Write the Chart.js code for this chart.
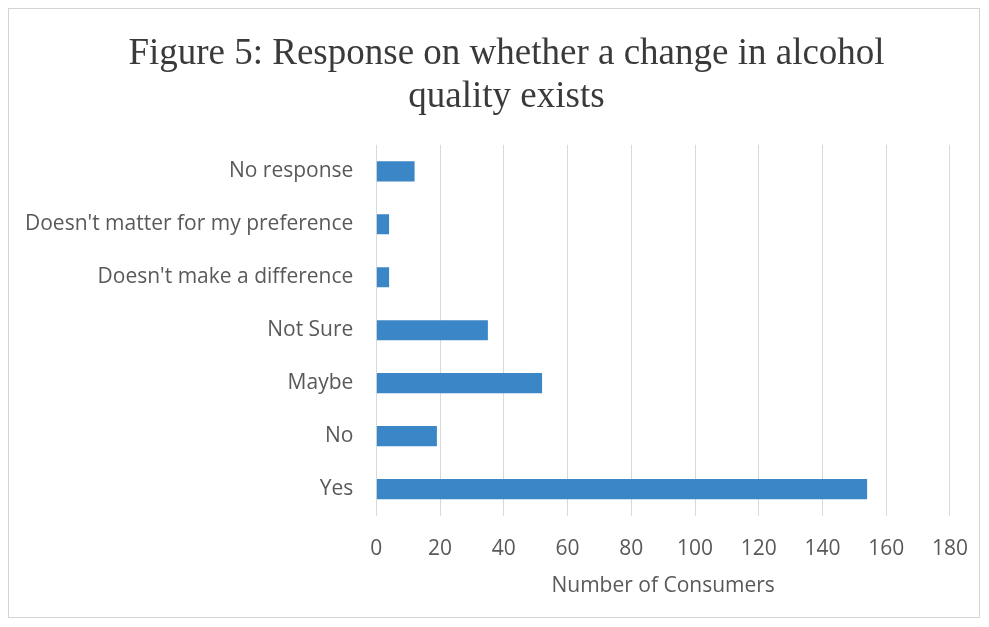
<!DOCTYPE html>
<html>
<head>
<meta charset="utf-8">
<script src="https://cdn.jsdelivr.net/npm/chart.js@4"></script>
<style>
  body { margin: 0; background: #fff; }
  #wrap { position: relative; width: 989px; height: 627px; }
  #frame { position: absolute; left: 8px; top: 8px; width: 972px; height: 610px; border: 1px solid #d4d4d4; box-sizing: border-box; pointer-events: none; }
</style>
</head>
<body>
<div id="wrap">
  <canvas id="myChart" width="989" height="627"></canvas>
  <div id="frame"></div>
</div>
<script>
var categories = ["No response", "Doesn't matter for my preference", "Doesn't make a difference", "Not Sure", "Maybe", "No", "Yes"];
var consumers = [12, 4, 4, 35, 52, 19, 154];
var xTicks = [0, 20, 40, 60, 80, 100, 120, 140, 160, 180];

var labelFont = { family: "Open Sans", size: 21 };

// nudge the title to the right, the original is not centred on the canvas
var shiftTitle = {
  id: "shiftTitle",
  afterLayout: function (chart) {
    var t = chart.titleBlock;
    if (t) {
      t.left += 22;
      t.right += 22;
    }
  },
};

function draw() {
  var ctx = document.getElementById("myChart").getContext("2d");
  var chart = new Chart(ctx, {
    type: "bar",
    data: {
      labels: categories,
      datasets: [
        {
          label: "Number of Consumers",
          data: consumers,
          backgroundColor: "#3b86c6",
          barPercentage: 0.76,
          categoryPercentage: 0.5,
        },
      ],
    },
    plugins: [shiftTitle],
    options: {
      indexAxis: "y",
      responsive: false,
      animation: false,
      // y tick padding ends up counted twice in the axis width, so keep the left side tight
      layout: { padding: { top: 33, right: 22, left: 2, bottom: 28 } },
      plugins: {
        legend: { display: false },
        tooltip: { enabled: false },
        title: {
          display: true,
          text: ["Figure 5: Response on whether a change in alcohol", "quality exists"],
          color: "#3a3a3a",
          font: { family: "Liberation Serif", size: 37, weight: "normal", lineHeight: 1.16 },
          padding: { top: 0, bottom: 26 },
        },
      },
      scales: {
        x: {
          min: 0,
          max: 180,
          afterBuildTicks: function (axis) {
            axis.ticks = xTicks.map(function (v) { return { value: v }; });
          },
          grid: { color: "#d9d9d9", drawTicks: false },
          border: { display: false },
          ticks: { color: "#595959", font: labelFont, padding: 21 },
          title: {
            display: true,
            text: "Number of Consumers",
            color: "#595959",
            font: labelFont,
            padding: { top: -9, bottom: 0 },
          },
        },
        y: {
          grid: { display: false, drawTicks: false },
          border: { display: false },
          ticks: { color: "#595959", font: labelFont, padding: 23 },
        },
      },
    },
  });
}

// make sure the fonts are ready before chart.js measures the labels
Promise.all([
  document.fonts.load("21px 'Open Sans'"),
  document.fonts.load("37px 'Liberation Serif'"),
]).then(draw, draw);
</script>
</body>
</html>
